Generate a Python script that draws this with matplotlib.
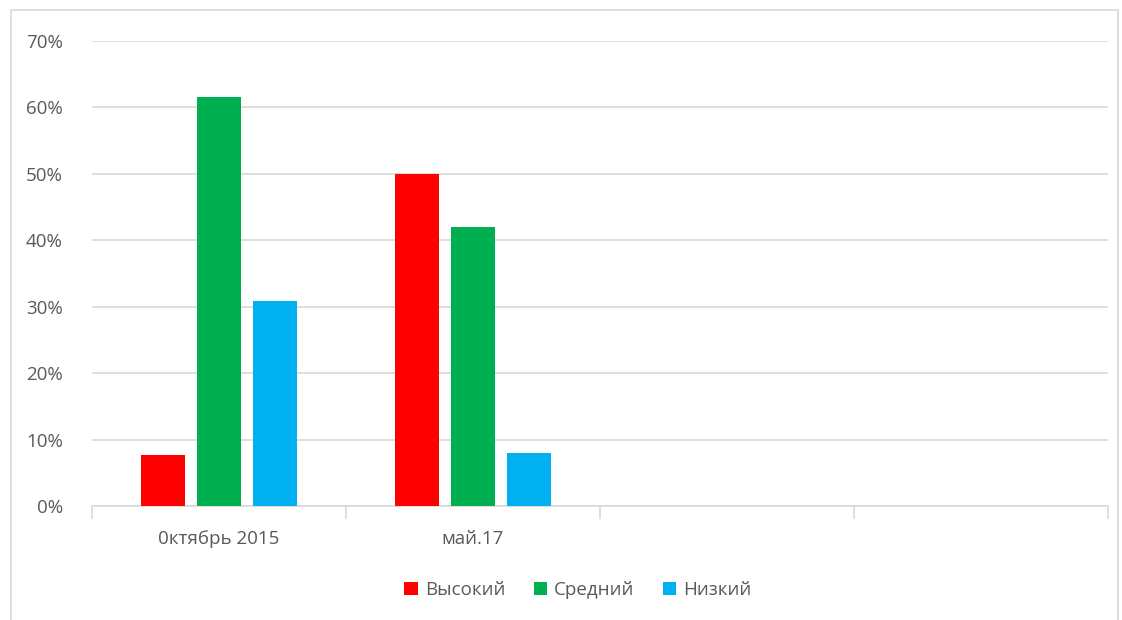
import numpy as np
import matplotlib.pyplot as plt
from matplotlib.patches import Rectangle

# data
categories = ["0ктябрь 2015", "май.17", "", ""]
series = ["Высокий", "Средний", "Низкий"]
vysokiy = [7.7, 50.0, np.nan, np.nan]
sredniy = [61.5, 42.0, np.nan, np.nan]
nizkiy = [30.8, 8.0, np.nan, np.nan]
colors = ["#ff0000", "#00b050", "#00b0f0"]

plt.rcParams['font.family'] = ['Open Sans', 'DejaVu Sans']
txt = "#595959"
grid = "#d9d9d9"

fig = plt.figure(figsize=(11.22, 6.2), dpi=100)
fig.patches.append(Rectangle((11/1122, -0.01), 1107/1122, 1 - 10/620 + 0.01,
                             transform=fig.transFigure, fill=False,
                             edgecolor=grid, lw=1.2))
ax = fig.add_axes([92/1122, 1 - 506/620, 1016/1122, 465/620])

x = np.arange(len(categories))
w = 0.173
step = 0.2205
for i, (name, vals) in enumerate(zip(series, [vysokiy, sredniy, nizkiy])):
    ax.bar(x + (i - 1) * step, vals, width=w, color=colors[i], label=name, zorder=3)

ax.set_xlim(-0.5, len(categories) - 0.5)
ax.set_ylim(0, 70)
ax.set_yticks(range(0, 71, 10))
ax.set_yticklabels([f"{v}%" for v in range(0, 71, 10)], color=txt, fontsize=13.5)
ax.yaxis.grid(True, color=grid, lw=1.2, zorder=0)
ax.tick_params(axis='y', length=0, pad=21)

ax.set_xticks(x)
ax.set_xticklabels(categories, color=txt, fontsize=13.5)
ax.set_xticks(np.arange(-0.5, len(categories), 1), minor=True)
ax.tick_params(axis='x', which='major', length=0, pad=17)
ax.tick_params(axis='x', which='minor', length=9, color=grid, width=1.2)

for s in ['top', 'right', 'left']:
    ax.spines[s].set_visible(False)
ax.spines['bottom'].set_color(grid)
ax.spines['bottom'].set_linewidth(1.2)

fig.legend(loc='center', bbox_to_anchor=(578/1122, 1 - 590/620), ncol=3,
           frameon=False, handlelength=0.7, handleheight=0.7,
           handletextpad=0.4, columnspacing=1.5, fontsize=13.5, labelcolor=txt)

fig.savefig("out.png", dpi=100)
